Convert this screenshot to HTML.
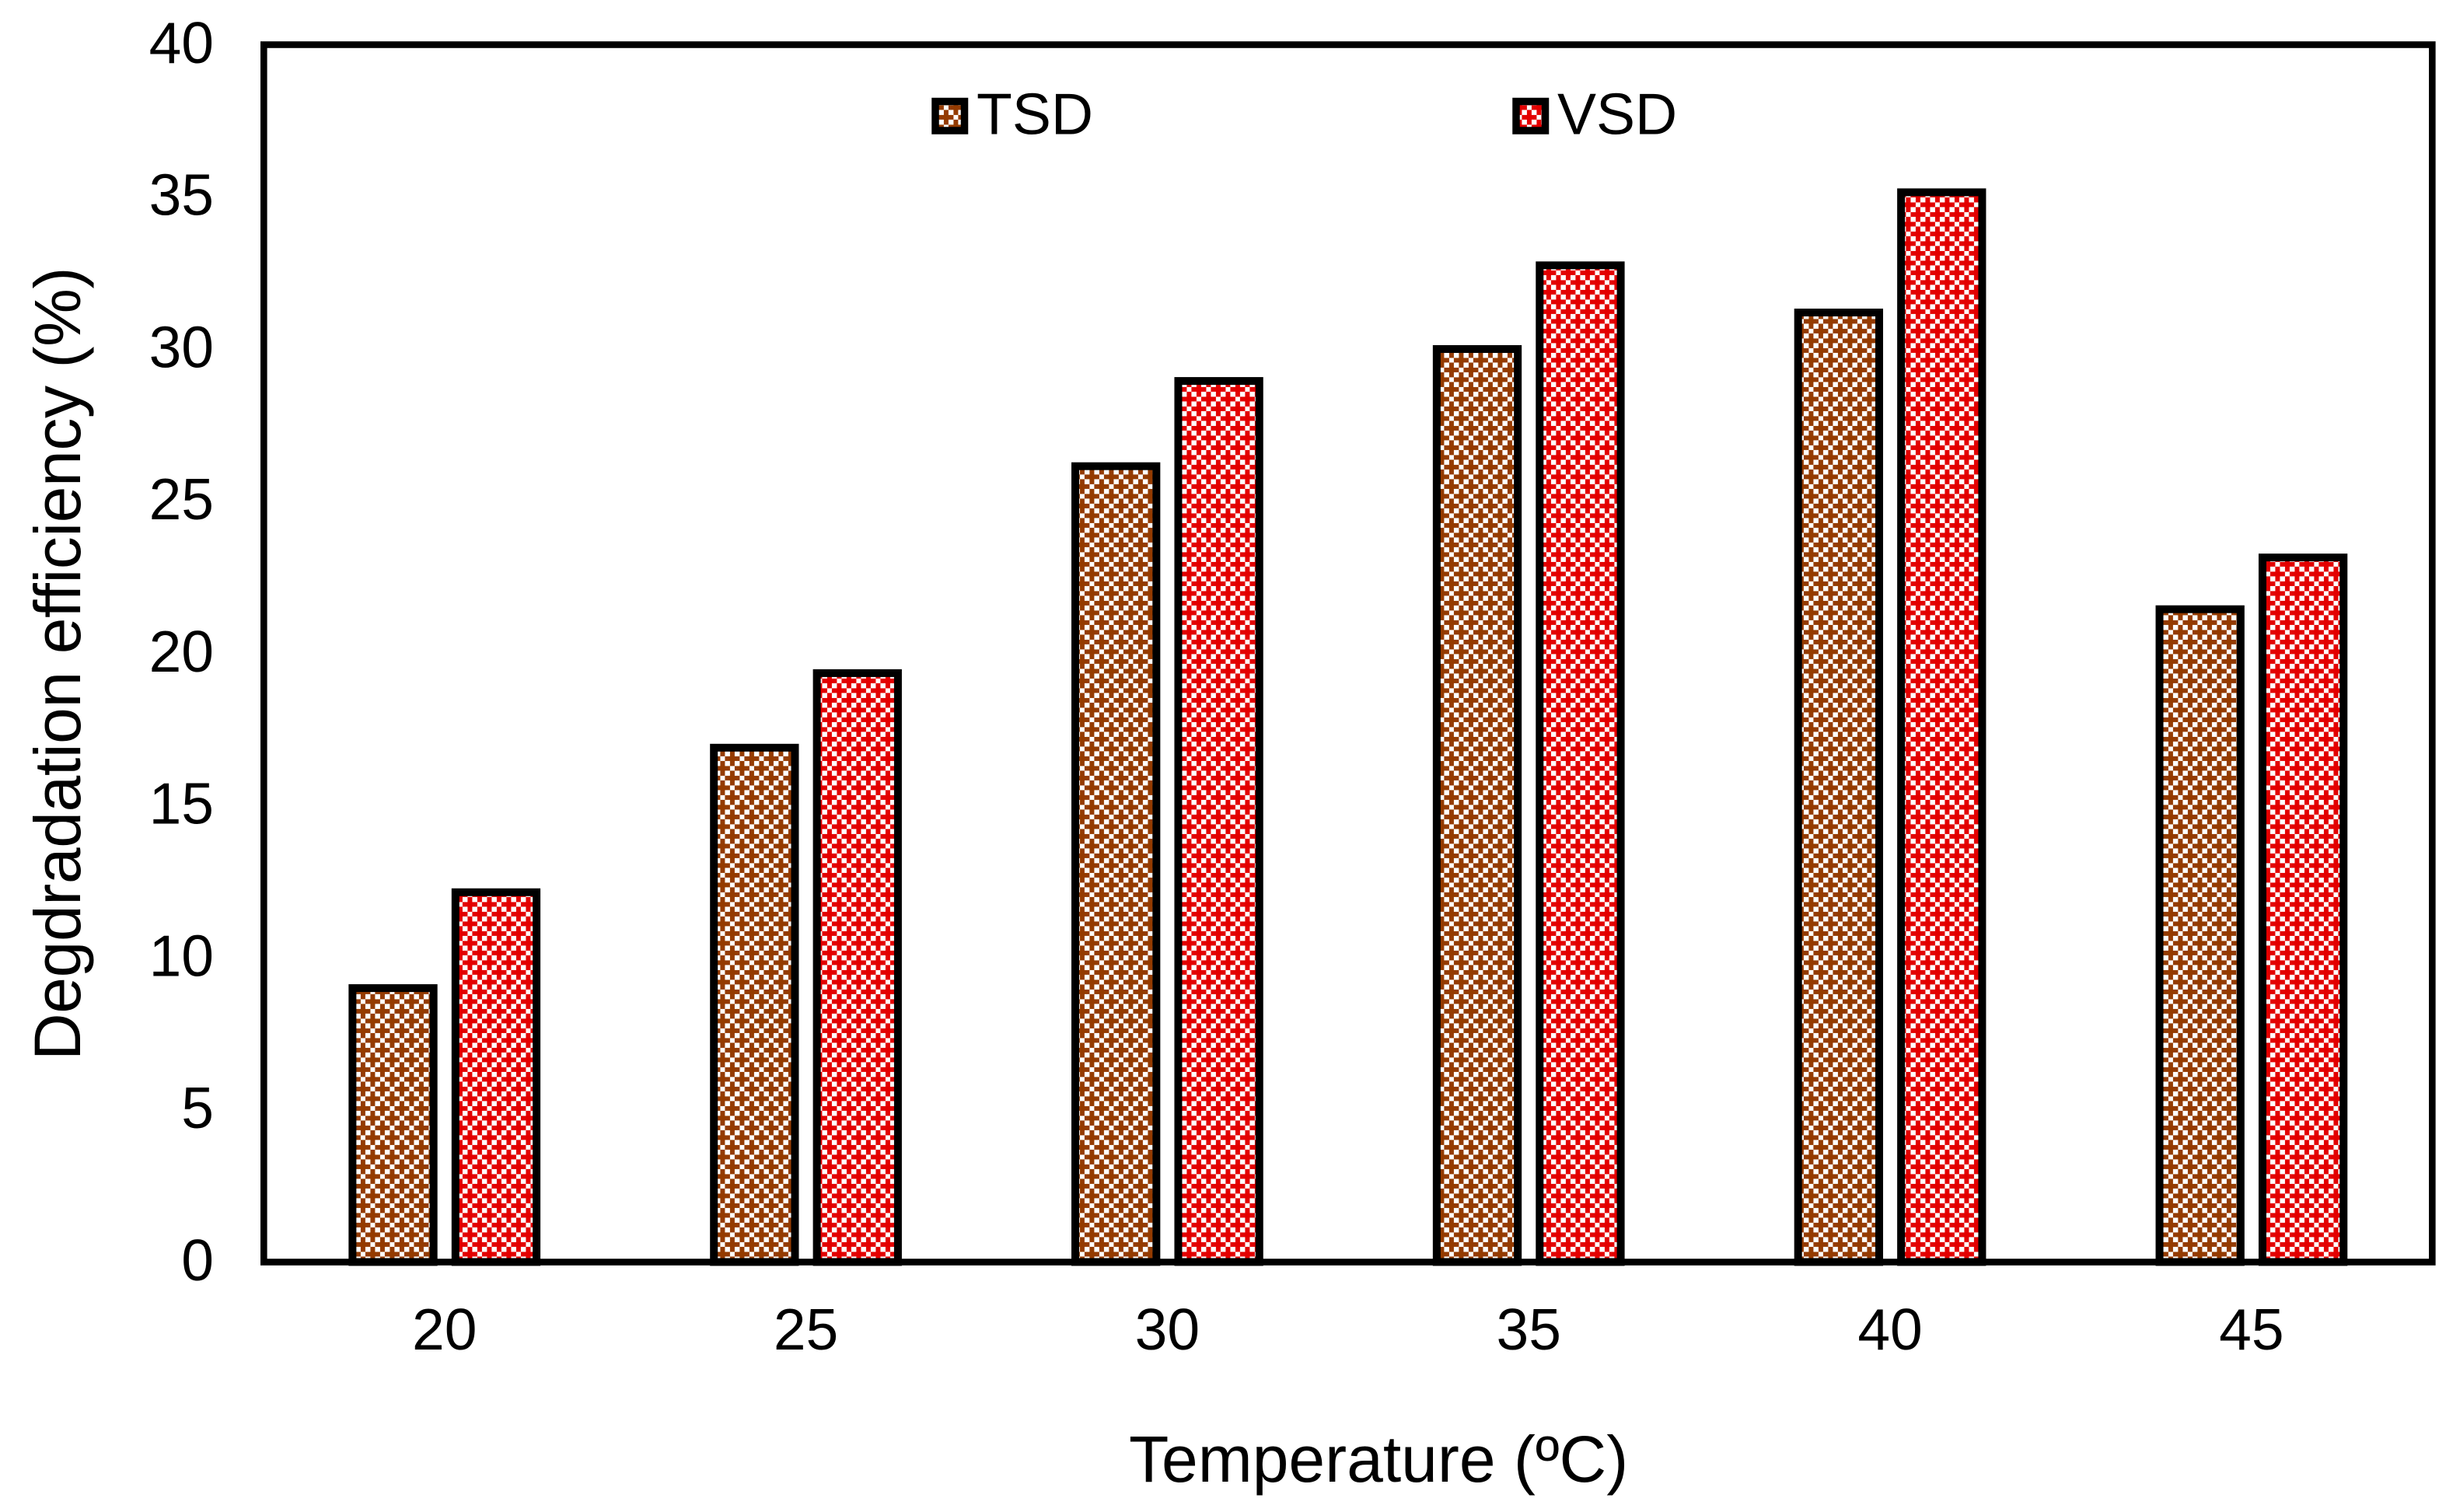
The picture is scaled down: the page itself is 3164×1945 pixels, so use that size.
<!DOCTYPE html>
<html lang="en">
<head>
<meta charset="utf-8">
<title>Degradation efficiency vs temperature</title>
<style>
html,body{margin:0;padding:0;background:#fff;}
svg{display:block;}
text{font-family:"Liberation Sans",Arial,sans-serif;fill:#000;}
</style>
</head>
<body>
<svg id="chart" xmlns="http://www.w3.org/2000/svg" width="3164" height="1945" viewBox="0 0 3164 1945">
  <defs>
    <pattern id="tsd-fill" patternUnits="userSpaceOnUse" width="25" height="25" patternTransform="translate(19.9 3.9)">
      <rect width="25" height="25" fill="#fff"/>
      <path shape-rendering="crispEdges" fill="#943b00" d="M6.25 0h6.25v6.25h-6.25zM18.75 0h6.25v6.25h-6.25zM0 6.25h18.75v6.25h-18.75zM6.25 12.5h6.25v6.25h-6.25zM18.75 12.5h6.25v6.25h-6.25zM0 18.75h6.25v6.25h-6.25zM12.5 18.75h12.5v6.25h-12.5z"/>
    </pattern>
    <pattern id="vsd-fill" patternUnits="userSpaceOnUse" width="25" height="25" patternTransform="translate(19.9 3.9)">
      <rect width="25" height="25" fill="#fff"/>
      <path shape-rendering="crispEdges" fill="#e30000" d="M6.25 0h6.25v6.25h-6.25zM18.75 0h6.25v6.25h-6.25zM0 6.25h18.75v6.25h-18.75zM6.25 12.5h6.25v6.25h-6.25zM18.75 12.5h6.25v6.25h-6.25zM0 18.75h6.25v6.25h-6.25zM12.5 18.75h12.5v6.25h-12.5z"/>
    </pattern>
  </defs>

  <rect x="339.3" y="57.5" width="2789" height="1566" fill="none" stroke="#000" stroke-width="8.6"/>
  <g id="bars"></g>
  <g id="y-ticks"></g>
  <g id="x-ticks"></g>

  <text transform="translate(103 1364) rotate(-90)" font-size="84" letter-spacing="-0.38">Degdradation efficiency (%)</text>
  <text x="1452" y="1906" font-size="84">Temperature (ºC)</text>

  <g>
    <g>
      <rect x="1203" y="130.5" width="37.5" height="37.5" fill="url(#tsd-fill)" stroke="#000" stroke-width="9.5"/>
      <text x="1256" y="172.7" font-size="75">TSD</text>
    </g>
    <g>
      <rect x="1950" y="130.5" width="37.5" height="37.5" fill="url(#vsd-fill)" stroke="#000" stroke-width="9.5"/>
      <text x="2003" y="172.7" font-size="75">VSD</text>
    </g>
  </g>
</svg>
<script>
const categories = ['20', '25', '30', '35', '40', '45'];
const tsdValues = [9.0, 16.9, 26.15, 30.0, 31.2, 21.45];
const vsdValues = [12.15, 19.35, 28.95, 32.75, 35.15, 23.15];
const yTickLabels = [0, 5, 10, 15, 20, 25, 30, 35, 40];

const SVG_NS = 'http://www.w3.org/2000/svg';
const plotLeft = 339.3, plotRight = 3128.3, plotTop = 57.5, plotBottom = 1623.4;
const yMin = 0, yMax = 40;
const bandWidth = (plotRight - plotLeft) / categories.length;
const barWidth = bandWidth * 0.2244;
const barGap = bandWidth * 0.0605;

function yScale(v) {
  return plotBottom - (v - yMin) / (yMax - yMin) * (plotBottom - plotTop);
}
function xCenter(i) {
  return plotLeft + (i + 0.5) * bandWidth;
}

const barsGroup = document.getElementById('bars');
const yTicksGroup = document.getElementById('y-ticks');
const xTicksGroup = document.getElementById('x-ticks');

function drawBar(value, x, fill, seriesName, category) {
  const top = yScale(value);
  const r = document.createElementNS(SVG_NS, 'rect');
  r.setAttribute('x', x);
  r.setAttribute('y', top);
  r.setAttribute('width', barWidth);
  r.setAttribute('height', plotBottom - top);
  r.setAttribute('fill', fill);
  r.setAttribute('stroke', '#000');
  r.setAttribute('stroke-width', '10');
  
  
  barsGroup.appendChild(r);
}

categories.forEach(function (cat, i) {
  const c = xCenter(i);
  drawBar(tsdValues[i], c - barGap / 2 - barWidth, 'url(#tsd-fill)', 'tsd', cat);
  drawBar(vsdValues[i], c + barGap / 2, 'url(#vsd-fill)', 'vsd', cat);

  const t = document.createElementNS(SVG_NS, 'text');
  t.setAttribute('x', c);
  t.setAttribute('y', 1736);
  t.setAttribute('font-size', '75');
  t.setAttribute('text-anchor', 'middle');
  
  
  t.textContent = cat;
  xTicksGroup.appendChild(t);
});

yTickLabels.forEach(function (v) {
  const t = document.createElementNS(SVG_NS, 'text');
  t.setAttribute('x', 275);
  t.setAttribute('y', yScale(v) + 23.5);
  t.setAttribute('font-size', '75');
  t.setAttribute('text-anchor', 'end');
  
  
  t.textContent = String(v);
  yTicksGroup.appendChild(t);
});
</script>
</body>
</html>
